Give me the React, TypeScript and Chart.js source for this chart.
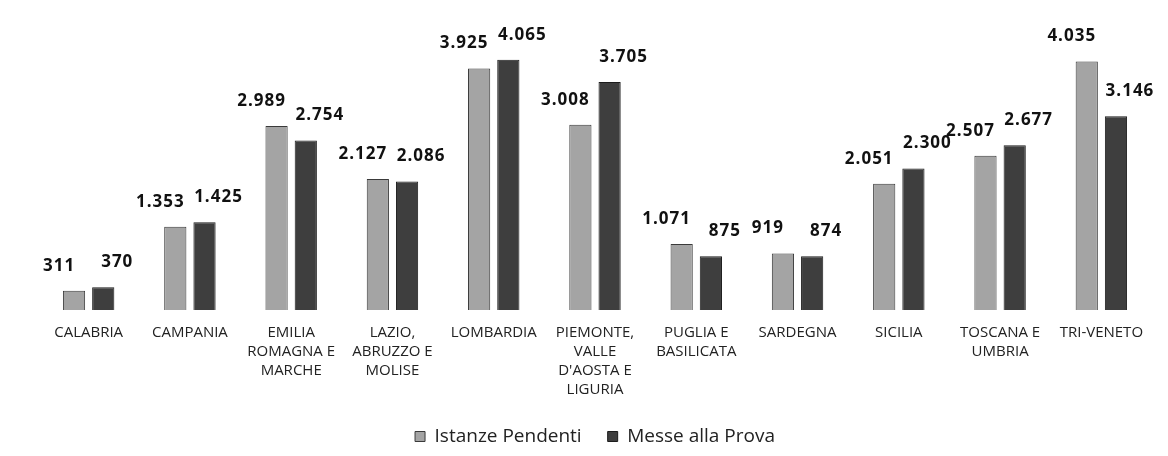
import React, { useEffect, useRef } from "react";
import { Chart, registerables } from "chart.js";

Chart.register(...registerables);

const categories: string[][] = [
  ["CALABRIA"],
  ["CAMPANIA"],
  ["EMILIA", "ROMAGNA E", "MARCHE"],
  ["LAZIO,", "ABRUZZO E", "MOLISE"],
  ["LOMBARDIA"],
  ["PIEMONTE,", "VALLE", "D'AOSTA E", "LIGURIA"],
  ["PUGLIA E", "BASILICATA"],
  ["SARDEGNA"],
  ["SICILIA"],
  ["TOSCANA E", "UMBRIA"],
  ["TRI-VENETO"],
];
const istanzePendenti = [311, 1353, 2989, 2127, 3925, 3008, 1071, 919, 2051, 2507, 4035];
const messeAllaProva = [370, 1425, 2754, 2086, 4065, 3705, 875, 874, 2300, 2677, 3146];
const seriesNames = ["Istanze Pendenti", "Messe alla Prova"];

const fmt = (v: number) => String(v).replace(/\B(?=(\d{3})+(?!\d))/g, ".");

const valueLabels = {
  id: "valueLabels",
  afterDatasetsDraw(chart: any) {
    const ctx = chart.ctx;
    ctx.save();
    ctx.font = 'bold 17px "Open Sans"';
    try { (ctx as any).letterSpacing = "1px"; } catch (e) {}
    ctx.fillStyle = "#111";
    ctx.textAlign = "center";
    ctx.textBaseline = "middle";
    chart.data.datasets.forEach((ds: any, di: number) => {
      const meta = chart.getDatasetMeta(di);
      meta.data.forEach((bar: any, i: number) => {
        const dx = di === 0 ? -15 : 14;
        ctx.fillText(fmt(ds.data[i]), bar.x + dx, bar.y - 25);
      });
    });
    ctx.restore();
  },
};

export default function App() {
  const ref = useRef<HTMLCanvasElement>(null);
  useEffect(() => {
    document.body.style.margin = "0";
    const canvas = ref.current!;
    const chart = new Chart(canvas, {
      type: "bar",
      data: {
        labels: categories,
        datasets: [
          {
            label: seriesNames[0],
            data: istanzePendenti,
            backgroundColor: "#a4a4a4",
            borderColor: "#3a3a3a",
            borderWidth: 1,
            barPercentage: 0.76,
            categoryPercentage: 0.577,
          },
          {
            label: seriesNames[1],
            data: messeAllaProva,
            backgroundColor: "#3e3e3e",
            borderColor: "#1c1c1c",
            borderWidth: 1,
            barPercentage: 0.76,
            categoryPercentage: 0.577,
          },
        ],
      },
      options: {
        responsive: false,
        animation: false,
        layout: { padding: { left: 38, right: 16, top: 33, bottom: 0 } },
        scales: {
          y: { display: false, min: 0, max: 4500 },
          x: {
            grid: { display: false, drawTicks: false },
            border: { display: false },
            ticks: {
              color: "#222",
              font: { family: "'Open Sans'", size: 15, lineHeight: 1.27 },
              padding: 13,
              maxRotation: 0,
              autoSkip: false,
            },
            afterFit: (scale: any) => {
              scale.height = 91;
            },
          },
        },
        plugins: {
          legend: {
            position: "bottom",
            labels: {
              boxWidth: 10,
              boxHeight: 10,
              padding: 26,
              color: "#222",
              font: { family: "'Open Sans'", size: 19 },
            },
          },
          tooltip: { enabled: false },
        },
      },
      plugins: [valueLabels],
    });
    return () => chart.destroy();
  }, []);
  return <canvas ref={ref} width={1168} height={456} style={{ display: "block" }} />;
}
